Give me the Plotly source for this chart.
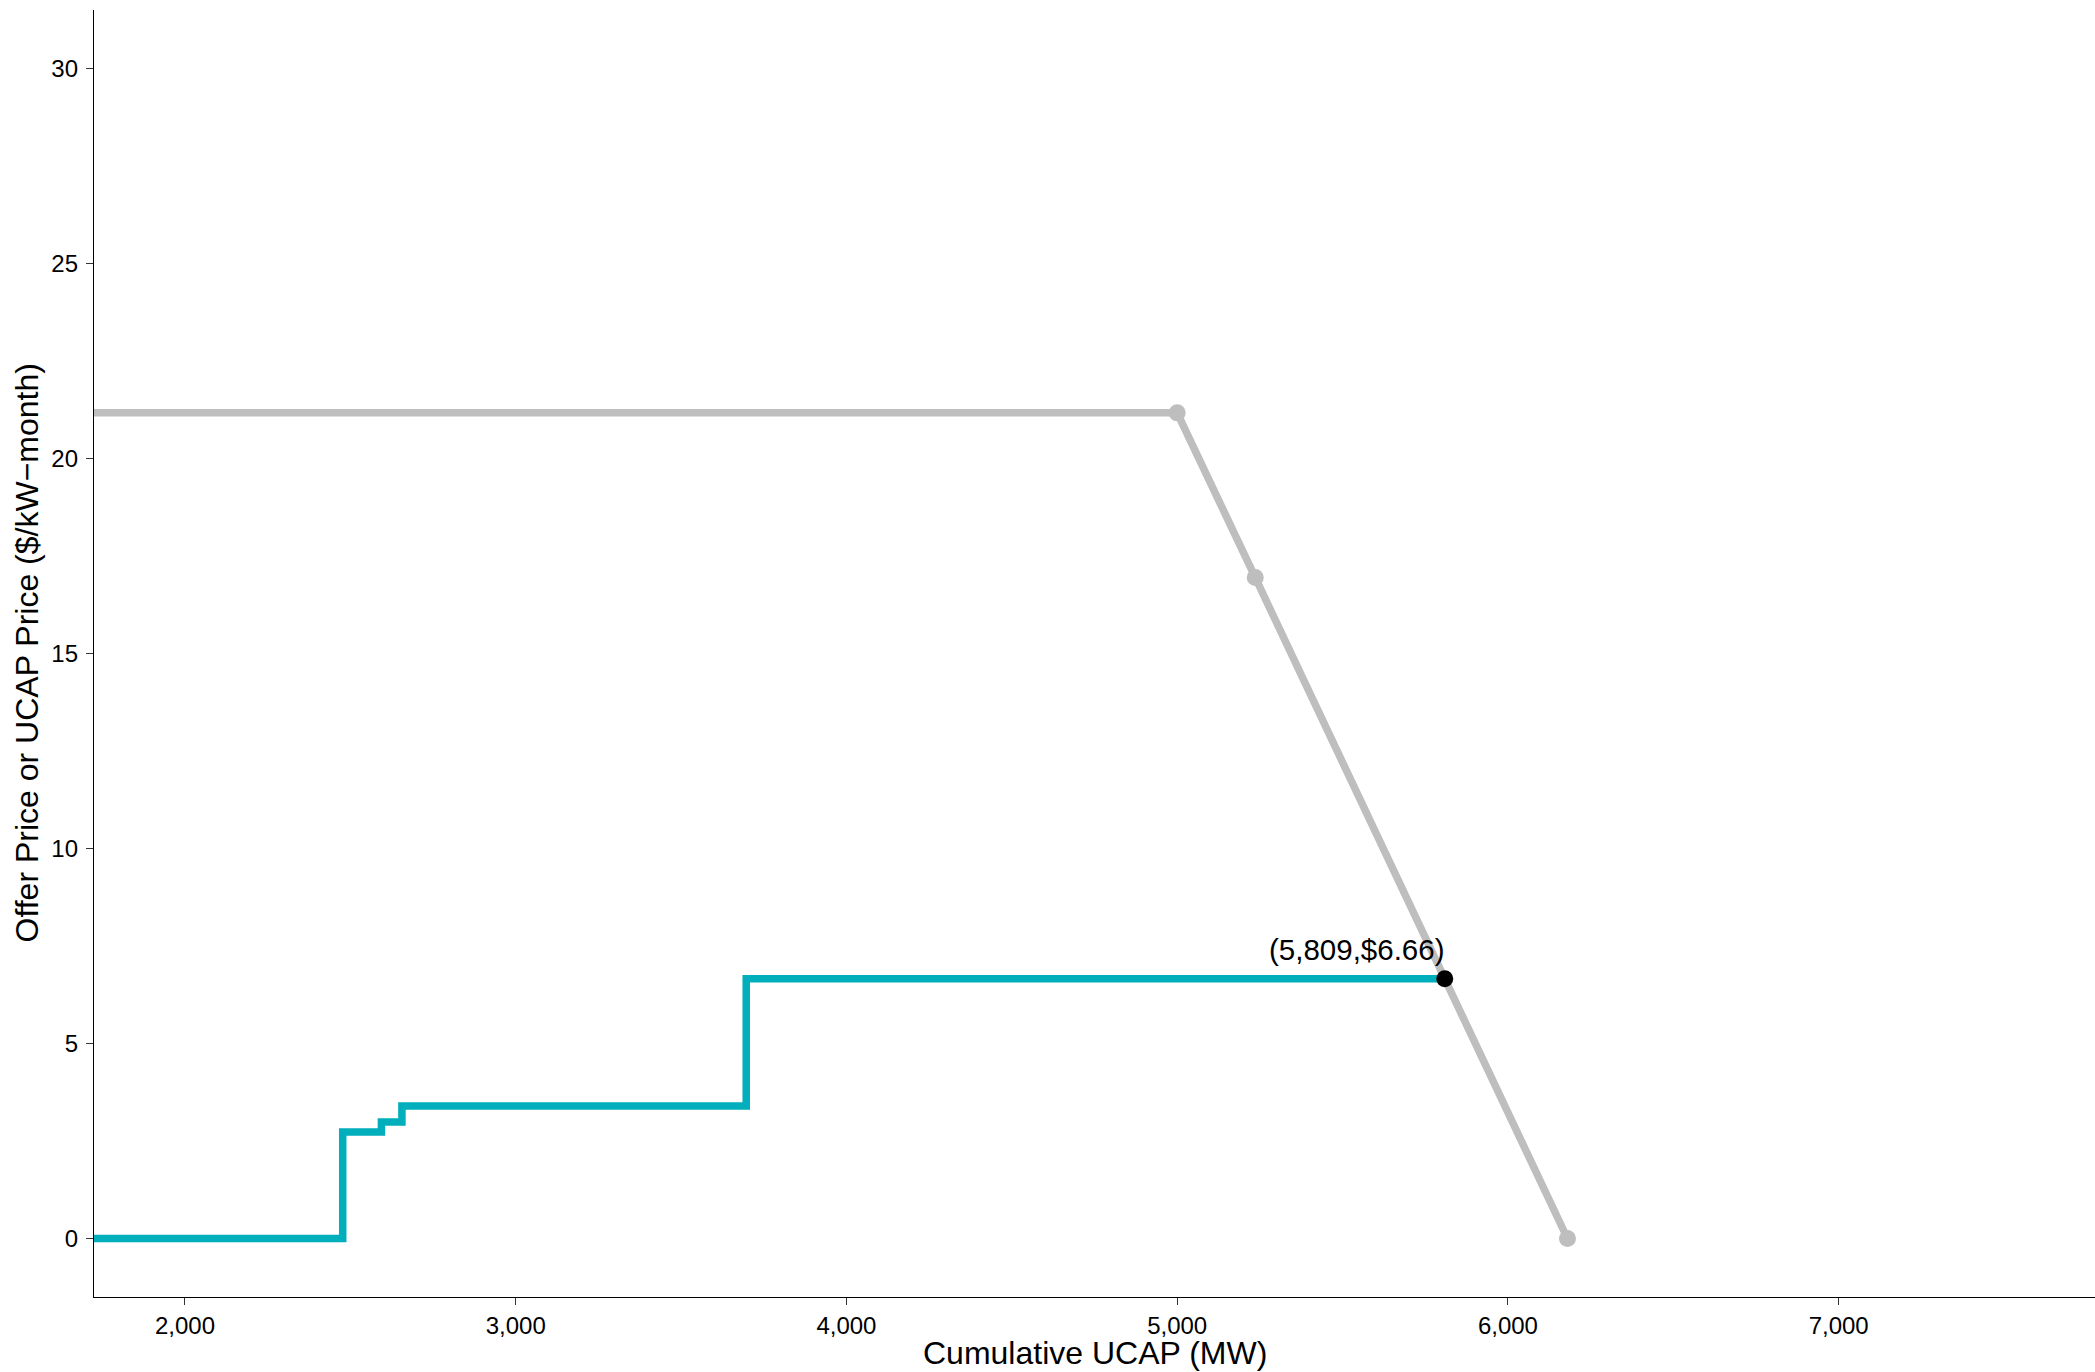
import plotly.graph_objects as go

# Demand curve (grey)
demand_x = [0, 5000, 5236, 6180]
demand_y = [21.17, 21.17, 16.95, 0.0]

# Supply offer curve (teal step)
supply_x = [0, 2477, 2594, 2656, 3697, 5809]
supply_y = [0.0, 2.73, 2.99, 3.40, 6.66, 6.66]

# Clearing point
clear_x = [5809]
clear_y = [6.66]
clear_label = "(5,809,$6.66)"

x_ticks = [2000, 3000, 4000, 5000, 6000, 7000]
x_tick_text = ["2,000", "3,000", "4,000", "5,000", "6,000", "7,000"]
y_ticks = [0, 5, 10, 15, 20, 25, 30]

W, H = 2095, 1372
ML, MR, MT, MB = 94, 0, 10, 75
FONT = "Liberation Sans, Arial, Helvetica"

fig = go.Figure()
fig.add_trace(go.Scatter(x=supply_x, y=supply_y, mode="lines", line_shape="hv",
                         line=dict(color="#00AFBB", width=7.5), showlegend=False,
                         hoverinfo="skip"))
fig.add_trace(go.Scatter(x=demand_x, y=demand_y, mode="lines+markers",
                         line=dict(color="#BEBEBE", width=7.5),
                         marker=dict(color="#BEBEBE", size=17), showlegend=False,
                         hoverinfo="skip"))
fig.add_trace(go.Scatter(x=clear_x, y=clear_y, mode="markers",
                         marker=dict(color="black", size=17), showlegend=False,
                         hoverinfo="skip"))

fig.add_annotation(x=clear_x[0], y=clear_y[0], text=clear_label, showarrow=False,
                   xanchor="right", yanchor="bottom", yshift=11, xshift=2,
                   font=dict(family=FONT, size=29.5, color="black"))

# axis titles as annotations for precise placement
fig.add_annotation(xref="paper", yref="paper", x=0.5, y=0, yanchor="middle",
                   yshift=-56, text="Cumulative UCAP (MW)", showarrow=False,
                   font=dict(family=FONT, size=32, color="black"))
fig.add_annotation(xref="paper", yref="paper", x=0, y=0.5, xanchor="center",
                   xshift=-68, textangle=-90,
                   text="Offer Price or UCAP Price ($/kW\u2212month)", showarrow=False,
                   font=dict(family=FONT, size=32, color="black"))

fig.update_layout(
    width=W, height=H,
    margin=dict(l=ML, r=MR, t=MT, b=MB),
    paper_bgcolor="white", plot_bgcolor="white",
    font=dict(family=FONT, color="black"),
    xaxis=dict(range=[1725, 7775], tickvals=x_ticks, ticktext=x_tick_text,
               showgrid=False, zeroline=False, showline=True, linecolor="black",
               linewidth=1.4, ticks="outside", ticklen=7, tickwidth=1.4,
               tickcolor="#333333", tickfont=dict(size=24, color="black"),
               automargin=False),
    yaxis=dict(range=[-1.5, 31.5], tickvals=y_ticks,
               showgrid=False, zeroline=False, showline=True, linecolor="black",
               linewidth=1.4, ticks="outside", ticklen=7, tickwidth=1.4,
               tickcolor="#333333", tickfont=dict(size=24, color="black"),
               ticklabelstandoff=3, automargin=False),
)

fig.write_html("out.html", config={"displayModeBar": False},
               post_script="document.body.style.margin='0';document.body.style.overflow='hidden';")
